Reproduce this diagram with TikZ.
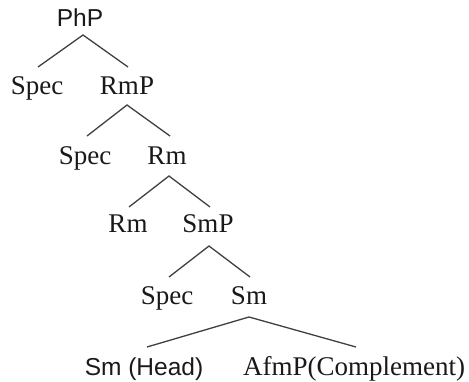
\documentclass[tikz,border=0pt]{standalone}
\usepackage{fontspec}
\setmainfont{Liberation Serif}
\newfontfamily\labelsans{Liberation Sans}
\usetikzlibrary{calc}
\begin{document}
\begin{tikzpicture}[x=1pt,y=-1pt,
  cat/.style={anchor=base,inner sep=0pt,font=\fontsize{27}{30}\selectfont,text=black!90},
  catsans/.style={cat,font=\labelsans\fontsize{24.5}{28}\selectfont},
  branch/.style={draw=black!75,line width=1.3pt}]
\useasboundingbox (0,0) rectangle (469,382);

% level 0
\node[catsans] (PhP) at (80,27) {PhP};
% level 1
\node[cat] (Spec1) at (37,95) {Spec};
\node[cat] (RmP) at (127,95) {RmP};
% level 2
\node[cat] (Spec2) at (85,165) {Spec};
\node[cat] (Rm2) at (167,165) {Rm};
% level 3
\node[cat] (Rm3) at (128,233) {Rm};
\node[cat] (SmP) at (208,233) {SmP};
% level 4
\node[cat] (Spec4) at (167,305) {Spec};
\node[cat] (Sm4) at (249,305) {Sm};
% level 5
\node[catsans] (Head) at (144,375) {Sm (Head)};
\node[cat] (Comp) at (354,375) {AfmP(Complement)};

% branches
\draw[branch] ($(Spec1.base)+(1,-28)$) -- ($(PhP.base)+(3,8)$) -- ($(RmP.base)+(1,-28)$);
\draw[branch] ($(Spec2.base)+(2,-29)$) -- ($(RmP.base)+(0,10)$) -- ($(Rm2.base)+(3,-29)$);
\draw[branch] ($(Rm3.base)+(1,-26)$) -- ($(Rm2.base)+(2,11)$) -- ($(SmP.base)+(2,-26)$);
\draw[branch] ($(Spec4.base)+(2,-28)$) -- ($(SmP.base)+(1,13)$) -- ($(Sm4.base)+(1,-28)$);
\draw[branch] ($(Head.base)+(3,-28)$) -- ($(Sm4.base)+(0,12)$) -- ($(Comp.base)+(2,-28)$);
\end{tikzpicture}
\end{document}
